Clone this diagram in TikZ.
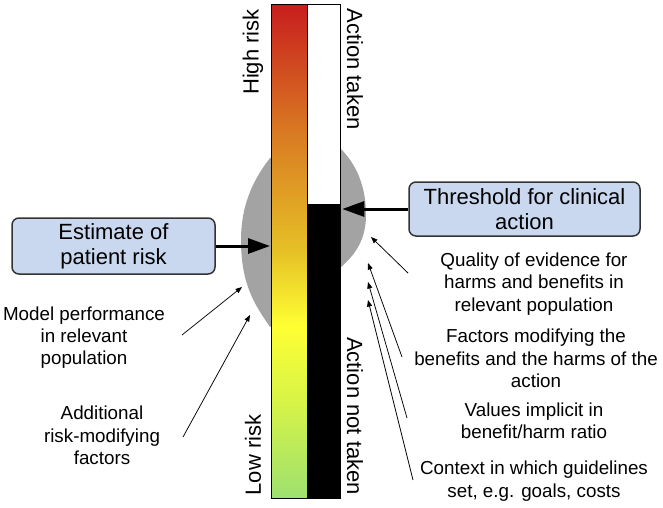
\documentclass[tikz,border=0pt]{standalone}
\usepackage{fontspec}
\setmainfont{Liberation Sans}
\usetikzlibrary{arrows.meta}
\definecolor{boxblue}{HTML}{C9D8EE}
\definecolor{boxedge}{HTML}{333333}
\definecolor{blobgray}{HTML}{A3A3A3}
\definecolor{rgreen}{HTML}{9DE070}
\definecolor{ryg}{HTML}{D2F24A}
\definecolor{ryellow}{HTML}{FFFF33}
\definecolor{rgold}{HTML}{E6C126}
\definecolor{rorange}{HTML}{D97A22}
\definecolor{rred}{HTML}{C81E1E}
\pgfdeclareverticalshading{riskbar}{100bp}{color(0bp)=(rgreen); color(25bp)=(rgreen); color(34bp)=(ryg); color(42.5bp)=(ryellow); color(50bp)=(rgold); color(62bp)=(rorange); color(75bp)=(rred); color(100bp)=(rred)}
\tikzset{
  infobox/.style={draw=boxedge, line width=1.5pt, fill=boxblue, rounded corners=7pt, align=center, inner sep=0pt,
    font=\fontsize{22}{25}\selectfont},
  smalltxt/.style={align=center, inner sep=0pt, font=\fontsize{18.8}{22.3}\selectfont},
  barlabel/.style={inner sep=0pt, font=\fontsize{22}{25}\selectfont},
  bigarrow/.style={line width=3pt, -{Triangle[length=22pt,width=15pt]}, shorten >=1pt},
  thinarrow/.style={line width=0.75pt, -{Triangle[length=6.5pt,width=5pt]}},
  barbox/.style={draw, line width=1.3pt, inner sep=0pt, anchor=north west}
}
\begin{document}
\begin{tikzpicture}[x=1pt,y=-1pt]
\path[use as bounding box] (0,0) rectangle (663,507);
% gray distribution blob
\fill[blobgray] (270,158) .. controls (257,175) and (241,200) .. (241,240)
  .. controls (241,285) and (255,305) .. (270,327) -- (340,268)
  .. controls (355,255) and (366,240) .. (366,215)
  .. controls (366,180) and (352,160) .. (340,148) -- cycle;
% bars
\node[barbox, shade, shading=riskbar, minimum width=36pt, minimum height=494pt] (bar) at (271,4) {};
\node[barbox, fill=white, minimum width=33pt, minimum height=200pt] (taken) at (307,4) {};
\node[barbox, fill=black, minimum width=33pt, minimum height=294pt] (nottaken) at (307,204) {};
% bar labels
\node[barlabel, rotate=90] (high) at (253,52) {High risk};
\node[barlabel, rotate=90] (low) at (253,455) {Low risk};
\node[barlabel, rotate=-90] (act) at (355,69) {Action taken};
\node[barlabel, rotate=-90] (noact) at (355,416) {Action not taken};
% boxes
\node[infobox, minimum width=203pt, minimum height=56pt] (est) at (113.5,246) {Estimate of\\patient risk};
\node[infobox, minimum width=231pt, minimum height=54pt] (thr) at (524.5,209) {Threshold for clinical\\action};
\draw[bigarrow] (est.east) -- (est.east -| bar.west);
\draw[bigarrow] (thr.west) -- (thr.west -| nottaken.east);
% left texts
\node[smalltxt] (model) at (84,337.5) {Model performance\\in relevant\\population};
\node[smalltxt] (addl) at (102,435.5) {Additional\\risk-modifying\\factors};
% right texts
\node[smalltxt] (qual) at (534,284) {Quality of evidence for\\harms and benefits in\\relevant population};
\node[smalltxt] (fact) at (536,358.5) {Factors modifying the\\benefits and the harms of the\\action};
\node[smalltxt] (vals) at (534,420.5) {Values implicit in\\benefit/harm ratio};
\node[smalltxt] (ctx) at (534,481) {Context in which guidelines\\set, e.g. goals, costs};
% thin arrow endpoints
\coordinate (m1) at (182,335); \coordinate (m2) at (242,287);
\coordinate (a1) at (183,437); \coordinate (a2) at (250,315);
\coordinate (q1) at (408,273); \coordinate (q2) at (371,237);
\coordinate (f1) at (402,357); \coordinate (f2) at (368,263);
\coordinate (v1) at (407,418); \coordinate (v2) at (368,282);
\coordinate (c1) at (413,480); \coordinate (c2) at (368,300);
\draw[thinarrow] (m1) -- (m2);
\draw[thinarrow] (a1) -- (a2);
\draw[thinarrow] (q1) -- (q2);
\draw[thinarrow] (f1) -- (f2);
\draw[thinarrow] (v1) -- (v2);
\draw[thinarrow] (c1) -- (c2);
\end{tikzpicture}
\end{document}
